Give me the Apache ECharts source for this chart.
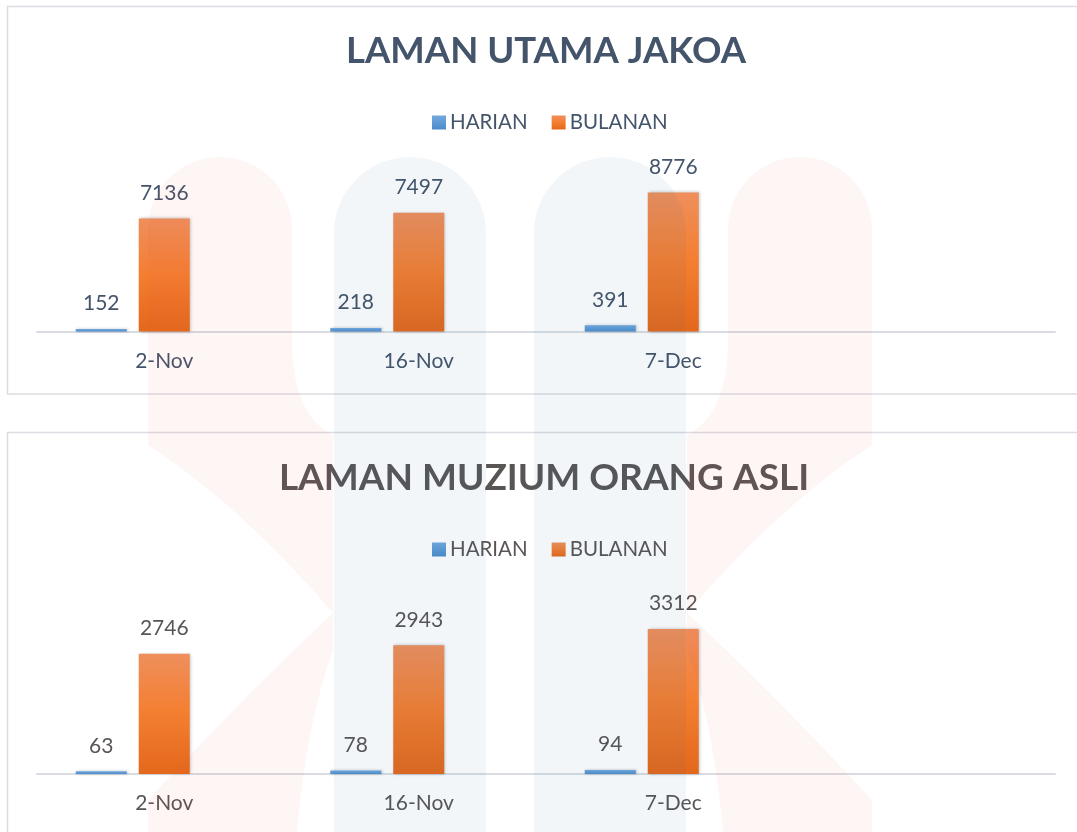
<!DOCTYPE html>
<html>
<head>
<meta charset="utf-8">
<script src="https://cdn.jsdelivr.net/npm/echarts@6/dist/echarts.min.js"></script>
<style>
html,body{margin:0;padding:0;background:#fff;}
#main{width:1077px;height:832px;}
</style>
</head>
<body>
<div id="main"></div>
<script>
// ---- data ----
const categories = ['2-Nov', '16-Nov', '7-Dec', ''];
const seriesNames = ['HARIAN', 'BULANAN'];
const titles = ['LAMAN UTAMA JAKOA', 'LAMAN MUZIUM ORANG ASLI'];
const harianJakoa = [152, 218, 391];
const bulananJakoa = [7136, 7497, 8776];
const harianMuzium = [63, 78, 94];
const bulananMuzium = [2746, 2943, 3312];
const axisMax = [10000, 4000];

// ---- styling ----
const FONT = 'Lato';
const textColors = ['#44546A', '#595555'];
const blueGrad = new echarts.graphic.LinearGradient(0, 0, 0, 1, [
  {offset: 0, color: '#71a9de'}, {offset: 1, color: '#4c8bcc'}]);
const orangeGrad = new echarts.graphic.LinearGradient(0, 0, 0, 1, [
  {offset: 0, color: '#ef8f5c'}, {offset: 0.5, color: '#f47e30'}, {offset: 1, color: '#e3681b'}]);

// watermark helpers (decorative background logo)
function arcPts(cx, cy, r, a0, a1, n) {
  const p = [];
  for (let i = 0; i <= n; i++) {
    const t = a0 + (a1 - a0) * i / n;
    p.push([cx + r * Math.cos(t), cy - r * Math.sin(t)]);
  }
  return p;
}
function quadPts(p0, c, p1, n) {
  const p = [];
  for (let i = 1; i <= n; i++) {
    const t = i / n, u = 1 - t;
    p.push([u * u * p0[0] + 2 * u * t * c[0] + t * t * p1[0],
            u * u * p0[1] + 2 * u * t * c[1] + t * t * p1[1]]);
  }
  return p;
}
function pillar(x0, x1, top) {
  const r = (x1 - x0) / 2, cx = (x0 + x1) / 2;
  return arcPts(cx, top + r, r, Math.PI, 0, 30).concat([[x1, 900], [x0, 900]]);
}
function redUpper() {
  let p = arcPts(220, 229, 72, Math.PI, 0, 30);
  p.push([292, 340]);
  p = p.concat(quadPts([292, 340], [292, 415], [333, 435], 12));
  p.push([333, 613]);
  p = p.concat(quadPts([333, 613], [240, 505], [148, 445], 16));
  return p;
}
function redLower() {
  let p = [[333, 613], [333, 650]];
  p = p.concat(quadPts([333, 650], [300, 740], [292, 900], 14));
  p.push([148, 900], [148, 800]);
  p = p.concat(quadPts([148, 800], [250, 690], [333, 613], 14));
  return p;
}
const mirror = pts => pts.map(q => [1020 - q[0], q[1]]);
const pinkFill = 'rgba(232,70,70,0.055)';
const blueFill = 'rgba(40,100,160,0.06)';
const wm = [
  {pts: pillar(334, 486, 157), fill: blueFill},
  {pts: pillar(534, 686, 157), fill: blueFill},
  {pts: redUpper(), fill: pinkFill},
  {pts: redLower(), fill: pinkFill},
  {pts: mirror(redUpper()), fill: pinkFill},
  {pts: mirror(redLower()), fill: pinkFill}
].map(o => ({type: 'polygon', silent: true, z: 100, shape: {points: o.pts}, style: {fill: o.fill}}));

const frames = [
  {type: 'rect', silent: true, z: -1, shape: {x: 7.5, y: 6.5, width: 1100, height: 387.5},
   style: {fill: 'none', stroke: '#dcdde2', lineWidth: 1.6}},
  {type: 'rect', silent: true, z: -1, shape: {x: 7.5, y: 432.5, width: 1100, height: 500},
   style: {fill: 'none', stroke: '#dcdde2', lineWidth: 1.6}}
];

const grids = [
  {left: 37, right: 22, top: 173, bottom: 500.5},
  {left: 37, right: 22, top: 599, bottom: 58}
];
const panelData = [[harianJakoa, bulananJakoa], [harianMuzium, bulananMuzium]];

const option = {
  animation: false,
  backgroundColor: '#ffffff',
  textStyle: {fontFamily: FONT},
  title: [
    {text: titles[0], left: 546, top: 33, textAlign: 'center', padding: 0,
     textStyle: {fontFamily: FONT, fontWeight: 'bold', fontSize: 36.5, color: textColors[0]}},
    {text: titles[1], left: 544, top: 460, textAlign: 'center', padding: 0,
     textStyle: {fontFamily: FONT, fontWeight: 'bold', fontSize: 37, color: textColors[1]}}
  ],
  legend: [0, 1].map(i => ({
    data: seriesNames, left: 432, top: i === 0 ? 112 : 539, padding: 0,
    itemWidth: 14, itemHeight: 14, itemGap: 24, icon: 'rect',
    textStyle: {fontFamily: FONT, fontSize: 20.5, color: textColors[i], padding: [0, 0, 0, -1]}
  })),
  grid: grids,
  xAxis: [0, 1].map(i => ({
    type: 'category', gridIndex: i, data: categories,
    axisLine: {lineStyle: {color: '#d9dde3', width: 2}},
    axisTick: {show: false},
    axisLabel: {fontFamily: FONT, fontSize: 21, color: textColors[i], margin: 19}
  })),
  yAxis: [0, 1].map(i => ({
    type: 'value', gridIndex: i, min: 0, max: axisMax[i], show: false, splitLine: {show: false}
  })),
  series: [],
  graphic: frames.concat(wm)
};

[0, 1].forEach(i => {
  [0, 1].forEach(s => {
    option.series.push({
      type: 'bar', name: seriesNames[s], xAxisIndex: i, yAxisIndex: i,
      data: panelData[i][s], barWidth: 51, barGap: '23.5%',
      itemStyle: {color: s === 0 ? blueGrad : orangeGrad,
                  shadowBlur: 3, shadowColor: 'rgba(0,0,0,0.25)', shadowOffsetX: 1, shadowOffsetY: 0},
      label: {show: true, position: 'top', distance: 15, fontFamily: FONT, fontSize: 21,
              color: textColors[i]}
    });
  });
  // empty third slot that Excel reserves in each group
  option.series.push({type: 'bar', name: 'spacer', xAxisIndex: i, yAxisIndex: i,
                      data: [], barWidth: 51, barGap: '23.5%'});
});

const chart = echarts.init(document.getElementById('main'), null, {renderer: 'canvas'});
chart.setOption(option);
</script>
</body>
</html>
